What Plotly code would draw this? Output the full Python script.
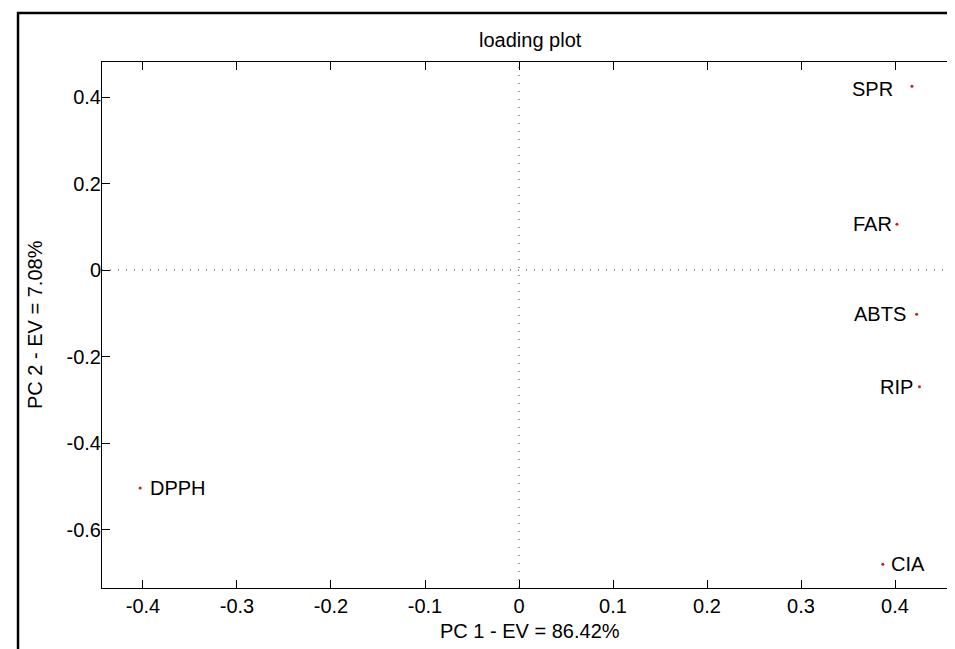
import plotly.graph_objects as go

# data
variables = ["SPR", "FAR", "ABTS", "RIP", "DPPH", "CIA"]
pc1 = [0.418, 0.402, 0.423, 0.426, -0.403, 0.387]
pc2 = [0.425, 0.106, -0.102, -0.270, -0.504, -0.680]
label_side = ["left", "left", "left", "left", "right", "right"]

x_tickvals = [-0.4, -0.3, -0.2, -0.1, 0, 0.1, 0.2, 0.3, 0.4]
x_ticktext = ["-0.4", "-0.3", "-0.2", "-0.1", "0", "0.1", "0.2", "0.3", "0.4"]
y_tickvals = [0.4, 0.2, 0, -0.2, -0.4, -0.6]
y_ticktext = ["0.4", "0.2", "0", "-0.2", "-0.4", "-0.6"]

title_text = "loading plot"
x_title = "PC 1 - EV = 86.42%"
y_title = "PC 2 - EV = 7.08%"

FONT = "Liberation Sans, Arial, sans-serif"
FS = 20

fig = go.Figure()
fig.add_trace(go.Scatter(
    x=pc1, y=pc2, mode="markers",
    marker=dict(symbol="circle", size=3, color="#c0201a"),
    hoverinfo="text", text=variables, showlegend=False,
))

shifts = {"SPR": -17, "FAR": -3, "ABTS": -9, "RIP": -4, "DPPH": 8, "CIA": 6}
yshifts = {"SPR": -3}
annotations = []
for name, xv, yv, side in zip(variables, pc1, pc2, label_side):
    annotations.append(dict(
        x=xv, y=yv, xref="x", yref="y", text=name, showarrow=False,
        xanchor="right" if side == "left" else "left", yanchor="middle",
        xshift=shifts[name], yshift=yshifts.get(name, 0),
        font=dict(family=FONT, size=FS, color="black"),
    ))
# title
annotations.append(dict(
    x=0.5, y=1, xref="paper", yref="paper", text=title_text, showarrow=False,
    xanchor="center", yanchor="middle", yshift=22,
    font=dict(family=FONT, size=FS, color="black"),
))
# x axis title
annotations.append(dict(
    x=0.5, y=0, xref="paper", yref="paper", text=x_title, showarrow=False,
    xanchor="center", yanchor="middle", yshift=-43,
    font=dict(family=FONT, size=FS, color="black"),
))
# y axis title
annotations.append(dict(
    x=0, y=0.5, xref="paper", yref="paper", text=y_title, showarrow=False,
    xanchor="center", yanchor="middle", xshift=-67, textangle=-90,
    font=dict(family=FONT, size=FS, color="black"),
))

shapes = [
    dict(type="line", xref="x", yref="paper", x0=0, x1=0, y0=0, y1=1,
         line=dict(color="#333333", width=1, dash="1px,7px")),
    dict(type="line", xref="paper", yref="y", x0=0, x1=1, y0=0, y1=0,
         line=dict(color="#333333", width=1, dash="1px,7px")),
    # outer figure frame
    dict(type="rect", xref="paper", yref="paper",
         x0=-0.0981, x1=1.0117, y0=-0.1426, y1=1.0932,
         line=dict(color="black", width=2.5), layer="below"),
]

axis_common = dict(
    showgrid=False, zeroline=False, showline=True, linecolor="black", linewidth=1,
    mirror="ticks", ticks="inside", ticklen=8, tickwidth=1, tickcolor="black",
    tickfont=dict(family=FONT, size=FS, color="black"),
)

fig.update_layout(
    width=955, height=649,
    margin=dict(l=94, r=5, t=54, b=69),
    paper_bgcolor="white", plot_bgcolor="white",
    xaxis=dict(range=[-0.4436, 0.467], tickvals=x_tickvals, ticktext=x_ticktext,
               **axis_common),
    yaxis=dict(range=[-0.735, 0.481], tickvals=y_tickvals, ticktext=y_ticktext,
               ticklabelstandoff=-4, **axis_common),
    annotations=annotations,
    shapes=shapes,
)

fig.write_html("out.html")
